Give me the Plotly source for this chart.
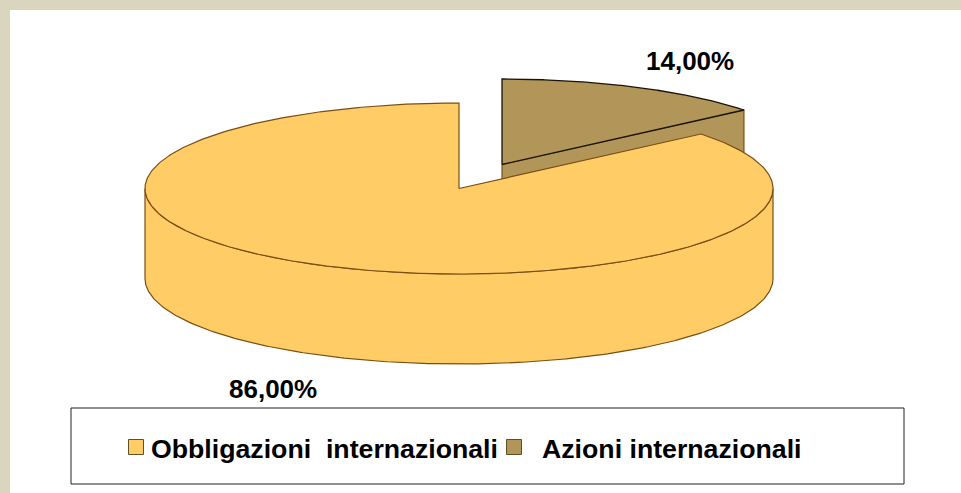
import numpy as np
import plotly.graph_objects as go

categories = ["Obbligazioni\u00a0\u00a0internazionali", "Azioni internazionali"]
values = [86.0, 14.0]
colors = ["#FFCC66", "#B29558"]

W, H = 961, 493
CX, CY = 459, 188.5    # main disc centre
RX, RY = 314, 85.5     # disc radii
DEPTH = 90             # extrusion
OFF = (43, -24)        # explosion offset of the small slice
EDGE = "#7A4E12"
BAND = "#DAD5BE"
FONT = "Liberation Sans, Arial, sans-serif"

small_end = values[1] / sum(values) * 2 * np.pi


def arc(t0, t1, cx, cy, n=240):
    t = np.linspace(t0, t1, n)
    return cx + RX * np.sin(t), cy - RY * np.cos(t)


def poly(x, y, fill, line=EDGE, width=1.2):
    return go.Scatter(x=list(x), y=list(y), mode="lines", fill="toself", fillcolor=fill,
                      line=dict(color=line, width=width), hoverinfo="skip", showlegend=False)


fig = go.Figure()

# exploded small slice
sx, sy = CX + OFF[0], CY + OFF[1]
tip_x, tip_y = arc(small_end, small_end, sx, sy, 1)
fig.add_trace(poly([sx, tip_x[0], tip_x[0], sx, sx],
                   [sy, tip_y[0], tip_y[0] + DEPTH, sy + DEPTH, sy], colors[1]))
ax, ay = arc(0, small_end, sx, sy)
fig.add_trace(poly(np.r_[sx, ax, sx], np.r_[sy, ay, sy], colors[1], line="#1A1408", width=1.3))

# main slice: wall then top face
wx, wy = arc(np.pi / 2, 3 * np.pi / 2, CX, CY)
fig.add_trace(poly(np.r_[wx, wx[::-1], wx[0]], np.r_[wy, wy[::-1] + DEPTH, wy[0]], colors[0]))
mx, my = arc(small_end, 2 * np.pi, CX, CY, 480)
fig.add_trace(poly(np.r_[CX, mx, CX], np.r_[CY, my, CY], colors[0]))

# legend swatches
fig.add_trace(go.Scatter(x=[136, 514], y=[447, 447], mode="markers", hoverinfo="skip", showlegend=False,
                         marker=dict(symbol="square", size=15, color=colors,
                                     line=dict(color="#5E4E28", width=1))))


def label(x, y, text, anchor="center", size=26):
    fig.add_annotation(x=x, y=y, text=f"<b>{text}</b>", showarrow=False, xanchor=anchor, yanchor="middle",
                       font=dict(family=FONT, size=size, color="#000000"))


pct = [f"{v:.2f}%".replace(".", ",") for v in values]
label(273, 389, pct[0])
label(690, 61, pct[1])
label(149, 449, categories[0], "left", 26.7)
label(540, 449, categories[1], "left", 26.7)

shapes = [
    dict(type="rect", x0=0, x1=W, y0=0, y1=10, fillcolor=BAND, line_width=0, layer="below"),
    dict(type="rect", x0=0, x1=10, y0=0, y1=H, fillcolor=BAND, line_width=0, layer="below"),
    dict(type="rect", x0=71, x1=904, y0=408, y1=484, fillcolor="white",
         line=dict(color="#222222", width=1), layer="below"),
]

fig.update_layout(
    width=W, height=H, margin=dict(l=0, r=0, t=0, b=0), autosize=False,
    paper_bgcolor="white", plot_bgcolor="white", shapes=shapes, showlegend=False,
    xaxis=dict(range=[0, W], visible=False, fixedrange=True),
    yaxis=dict(range=[H, 0], visible=False, fixedrange=True),
)
fig.write_html("out.html", config=dict(displayModeBar=False),
               post_script="document.documentElement.style.overflow='hidden';document.body.style.margin='0';")
